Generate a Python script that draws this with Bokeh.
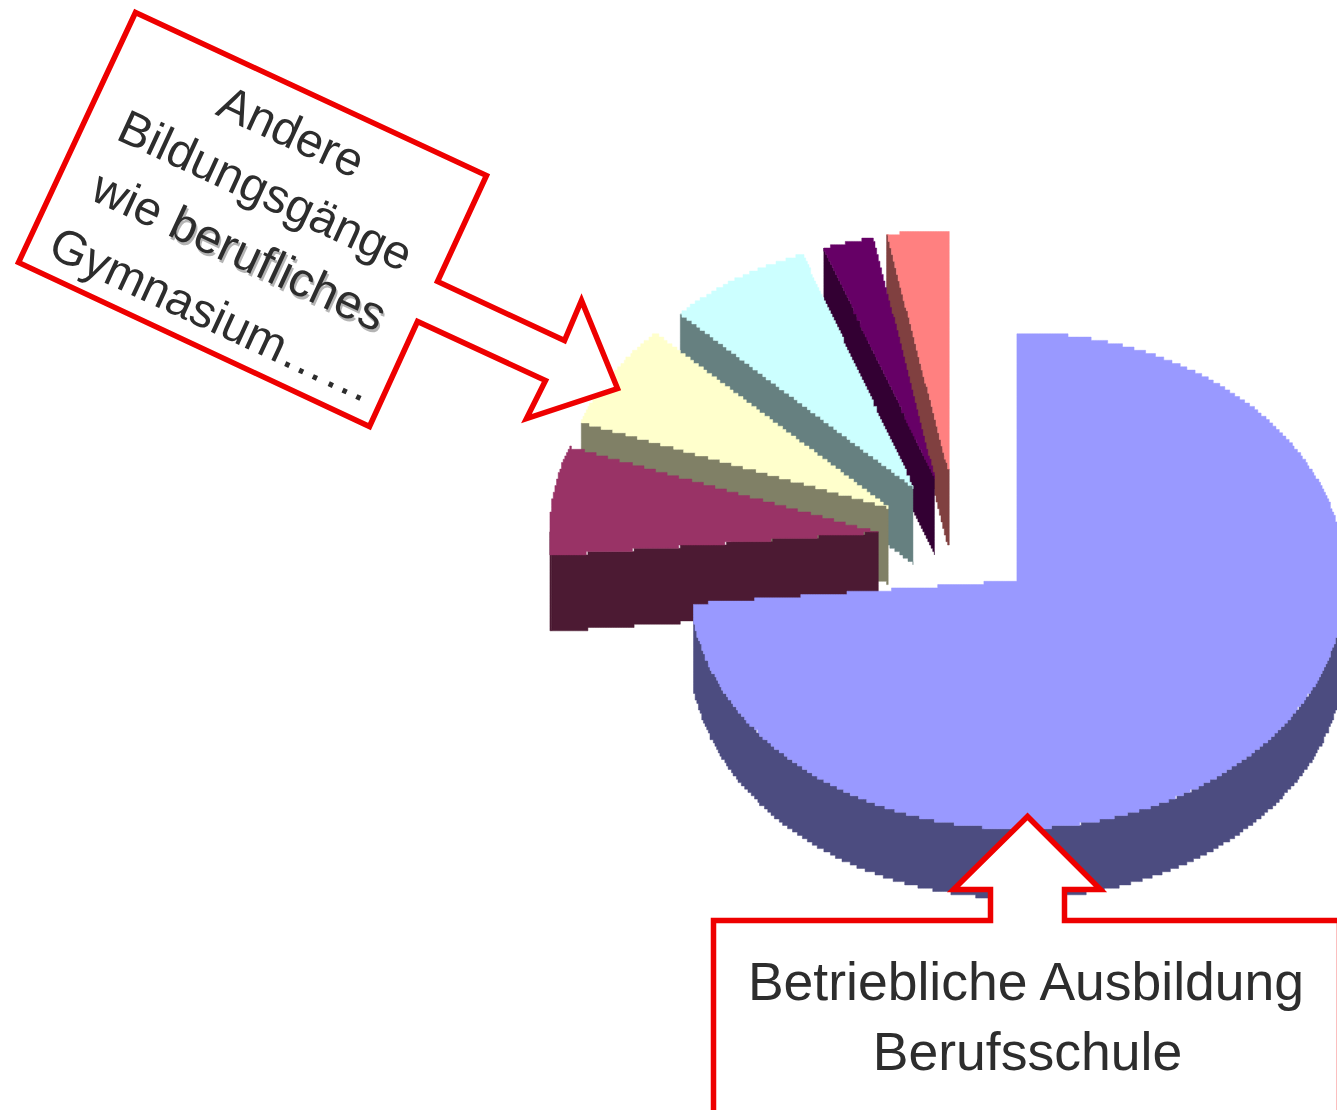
import numpy as np
from bokeh.plotting import figure
from bokeh.models import Range1d
from bokeh.core.properties import value
from bokeh.embed import file_html
from bokeh.resources import INLINE

# ---- data: shares of the pie, clockwise from 12 o'clock
categories = ["Betriebliche Ausbildung / Berufsschule", "Anteil 2", "Anteil 3", "Anteil 4", "Anteil 5", "Anteil 6"]
shares = [73.5, 7.1, 6.8, 7.1, 2.5, 3.0]

# ---- styles / layout (page pixels of the reference)
top_colors = ["#9999FF", "#993366", "#FFFFCC", "#CCFFFF", "#660066", "#FF8080"]
side_colors = ["#4C4C80", "#4C1A33", "#808066", "#668080", "#330033", "#804040"]
apex_x = [1017, 877, 888, 913, 934, 948]
apex_y = [580, 532, 507, 487, 477, 470]
radius_y = [248, 248, 248, 248, 244, 240]
RX, DEPTH, BLUE_DEPTH, BLUE_LEFT = 328, 76, 70, 693
CELL_X, CELL_Y = 1.65, 3.3  # the reference's coarse raster steps

W, H = 1337, 1110
p = figure(width=W, height=H, x_range=Range1d(0, W), y_range=Range1d(H, 0),
           output_backend="svg", toolbar_location=None, min_border=0,
           background_fill_color="white", border_fill_color="white", outline_line_color=None)
p.axis.visible = False
p.grid.visible = False

edges = 360 * np.cumsum([0] + shares) / sum(shares)


def arc(cx, cy, ry, t0, t1, dy=0.0):
    t = np.radians(np.linspace(t0, t1, max(int(abs(t1 - t0) * 2), 2)))
    return cx + RX * np.sin(t), cy - ry * np.cos(t) + dy


def stepped(xs, ys):
    """Walk the outline on a coarse raster, so that slanted edges come out as stairs."""
    xs, ys = np.r_[xs, xs[0]], np.r_[ys, ys[0]]
    out_x, out_y = [], []
    for k in range(len(xs) - 1):
        n = max(int(np.hypot(xs[k + 1] - xs[k], ys[k + 1] - ys[k]) / (CELL_X / 2)), 1)
        for s in np.linspace(0, 1, n, endpoint=False):
            qx = np.round((xs[k] + s * (xs[k + 1] - xs[k])) / CELL_X) * CELL_X
            qy = np.round((ys[k] + s * (ys[k + 1] - ys[k])) / CELL_Y) * CELL_Y
            if out_x and qx != out_x[-1] and qy != out_y[-1]:
                out_x.append(qx)
                out_y.append(out_y[-1])
            if not out_x or qx != out_x[-1] or qy != out_y[-1]:
                out_x.append(qx)
                out_y.append(qy)
    return out_x, out_y


def face(xs, ys, color):
    sx, sy = stepped(np.asarray(xs, float), np.asarray(ys, float))
    p.patch(sx, sy, fill_color=color, line_color=color, line_width=0.5)


# back-to-front: last slice first, the big slice last
for i in range(len(shares) - 1, -1, -1):
    t0, t1 = edges[i], edges[i + 1]
    cx, cy, ry = apex_x[i], apex_y[i], radius_y[i]
    d = BLUE_DEPTH if i == 0 else DEPTH
    # cut wall, on the leading edge (exploded slices only)
    if i > 0:
        ox, oy = arc(cx, cy, ry, t0, t0 + 0.01)
        face([ox[0], cx, cx, ox[0]], [oy[0], cy, cy + d, oy[0] + d], side_colors[i])
    # rim, where the outer edge faces the viewer
    r0, r1 = max(t0, 90), min(t1, 270)
    if r1 > r0:
        ax, ay = arc(cx, cy, ry, r0, r1)
        bx, by = arc(cx, cy, ry, r0, r1, d)
        rx_ = np.r_[ax, bx[::-1]]
        if i == 0:
            rx_ = np.maximum(rx_, BLUE_LEFT)
        face(rx_, np.r_[ay, by[::-1]], side_colors[i])
    # top face
    ax, ay = arc(cx, cy, ry, t0, t1)
    if i == 0:
        ax = np.maximum(ax, BLUE_LEFT)
    face(np.r_[cx, ax], np.r_[cy, ay], top_colors[i])

# ---- callouts
RED = "#EE0000"
call1_x = [135, 486, 437, 564, 581, 617, 526, 545, 417, 369, 18]
call1_y = [12, 175, 281, 340, 300, 388, 418, 380, 321, 426, 262]
call2_x = [713, 990, 990, 953, 1027, 1100, 1064, 1064, 1339, 1339, 713]
call2_y = [920, 920, 889, 889, 816, 889, 889, 920, 920, 1114, 1114]
for xs, ys in ((call1_x, call1_y), (call2_x, call2_y)):
    p.patch(xs, ys, fill_color="white", line_color=RED, line_width=5.5, line_join="miter")

# ---- texts
FONT = value("Liberation Sans")
INK = "#2D2D2D"
p.text([1027, 1027], [981, 1051], text=["Betriebliche Ausbildung", "Berufsschule"],
       text_font=FONT, text_font_size="53.5px", text_color=INK,
       text_align="center", text_baseline="middle")

ANG = np.radians(-24.9)
FS1 = 48
ux, uy = np.cos(ANG), -np.sin(ANG)
p.text([291, 265, 212], [131, 190, 314], text=["Andere", "Bildungsgänge", "Gymnasium……"],
       angle=ANG, text_font=FONT, text_font_size=f"{FS1}px", text_color=INK,
       text_align="center", text_baseline="middle")
# third line: plain word, then the word with a soft shadow
line_w = 6.613 * FS1
sx, sy = 239 - ux * line_w / 2, 250 - uy * line_w / 2
bx, by = sx + ux * 1.778 * FS1, sy + uy * 1.778 * FS1
p.text([sx], [sy], text=["wie"], angle=ANG, text_font=FONT, text_font_size=f"{FS1}px",
       text_color=INK, text_align="left", text_baseline="middle")
p.text([bx + 1.5], [by + 3], text=["berufliches"], angle=ANG, text_font=FONT,
       text_font_size=f"{FS1}px", text_color="#444444", text_alpha=0.4,
       text_align="left", text_baseline="middle")
p.text([bx], [by], text=["berufliches"], angle=ANG, text_font=FONT, text_font_size=f"{FS1}px",
       text_color=INK, text_align="left", text_baseline="middle")

open("out.html", "w").write(file_html(p, INLINE))
